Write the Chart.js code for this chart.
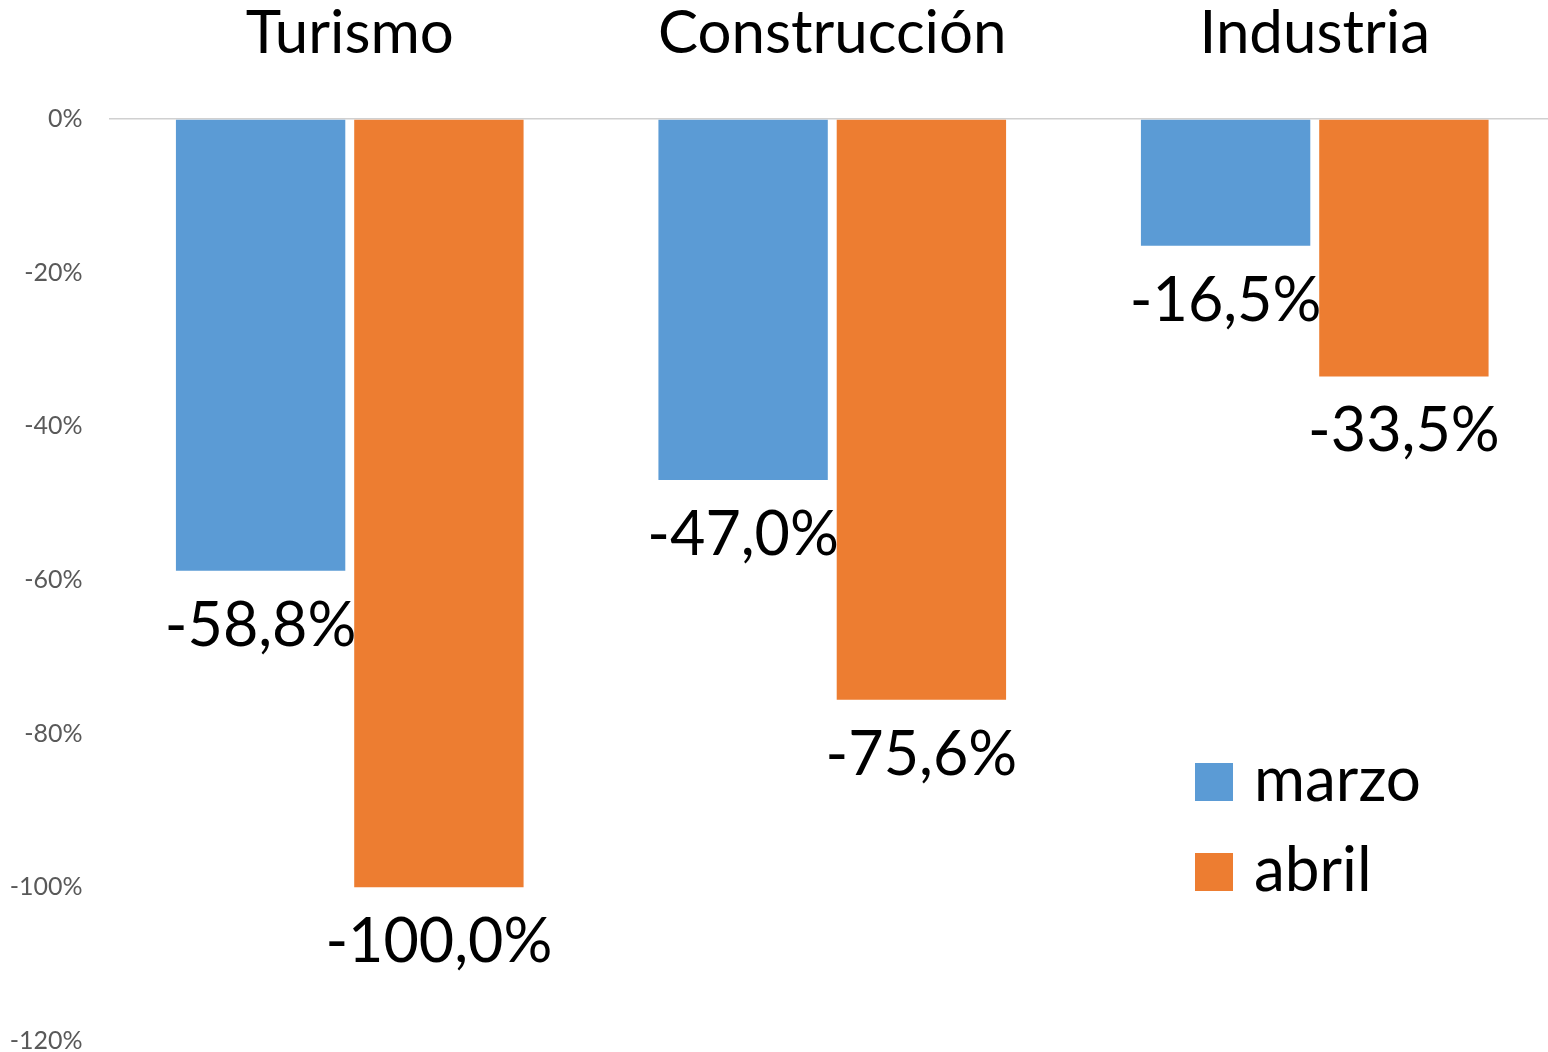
<!DOCTYPE html>
<html lang="es">
<head>
<meta charset="utf-8">
<title>Variación por sector</title>
<script src="https://cdn.jsdelivr.net/npm/chart.js@4/dist/chart.umd.min.js"></script>
<style>
    html, body { margin: 0; padding: 0; background: #fff; overflow: hidden; height: 1052px; }
    #chart { display: block; }
</style>
</head>
<body>
<canvas id="chart" width="1556" height="1082"></canvas>
<script>
// datos
const sectores = ["Turismo", "Construcción", "Industria"];
const marzo = [-58.8, -47.0, -16.5];
const abril = [-100.0, -75.6, -33.5];
const ejeMin = -120;
const ejeMax = 0;
const ejePaso = 20;

const FUENTE = "Lato, 'Open Sans', sans-serif";

const fmt = v => v.toFixed(1).replace(".", ",") + "%";

/* etiquetas de valor bajo cada barra */
const etiquetasPlugin = {
    id: "etiquetas",
    afterDatasetsDraw(chart) {
        const ctx = chart.ctx;
        ctx.save();
        ctx.font = "61px " + FUENTE;
        ctx.fillStyle = "#000";
        ctx.textAlign = "center";
        ctx.textBaseline = "alphabetic";
        chart.data.datasets.forEach((ds, i) => {
            chart.getDatasetMeta(i).data.forEach((bar, j) => {
                ctx.fillText(fmt(ds.data[j]), bar.x, bar.y + 75);
            });
        });
        ctx.restore();
    }
};

/* leyenda abajo a la derecha, dentro del área */
const leyendaPlugin = {
    id: "leyendaDentro",
    afterDraw(chart) {
        const ctx = chart.ctx;
        const x0 = 1195, y0 = 763, lado = 38, salto = 90;
        ctx.save();
        ctx.font = "62px " + FUENTE;
        ctx.textAlign = "left";
        ctx.textBaseline = "alphabetic";
        chart.data.datasets.forEach((ds, i) => {
            const y = y0 + i * salto;
            ctx.fillStyle = ds.backgroundColor;
            ctx.fillRect(x0, y, lado, lado);
            ctx.fillStyle = "#000";
            ctx.fillText(ds.label, x0 + 59, y + lado);
        });
        ctx.restore();
    }
};

new Chart(document.getElementById("chart"), {
    type: "bar",
    data: {
        labels: sectores,
        datasets: [
            {
                label: "marzo",
                data: marzo,
                backgroundColor: "#5B9BD5",
                categoryPercentage: 0.739,
                barPercentage: 0.95
            },
            {
                label: "abril",
                data: abril,
                backgroundColor: "#ED7D31",
                categoryPercentage: 0.739,
                barPercentage: 0.95
            }
        ]
    },
    options: {
        responsive: false,
        animation: false,
        layout: { padding: { left: 0, right: 0, top: 0, bottom: 12 } },
        plugins: {
            legend: { display: false },
            tooltip: { enabled: false }
        },
        scales: {
            x: {
                position: "top",
                grid: { display: false },
                border: { display: false },
                ticks: {
                    color: "#000",
                    padding: 41,
                    font: { family: FUENTE, size: 60 }
                },
                afterFit: s => { s.height = 119; }
            },
            y: {
                min: ejeMin,
                max: ejeMax,
                border: { display: false },
                grid: {
                    drawTicks: false,
                    lineWidth: 1.5,
                    color: c => c.tick && c.tick.value === 0 ? "#d0d0d0" : "rgba(0,0,0,0)"
                },
                ticks: {
                    stepSize: ejePaso,
                    padding: 26,
                    color: "#595959",
                    font: { family: FUENTE, size: 25 },
                    callback: v => v + "%"
                },
                afterFit: s => { s.width = 108.5; }
            }
        }
    },
    plugins: [etiquetasPlugin, leyendaPlugin]
});
</script>
</body>
</html>
